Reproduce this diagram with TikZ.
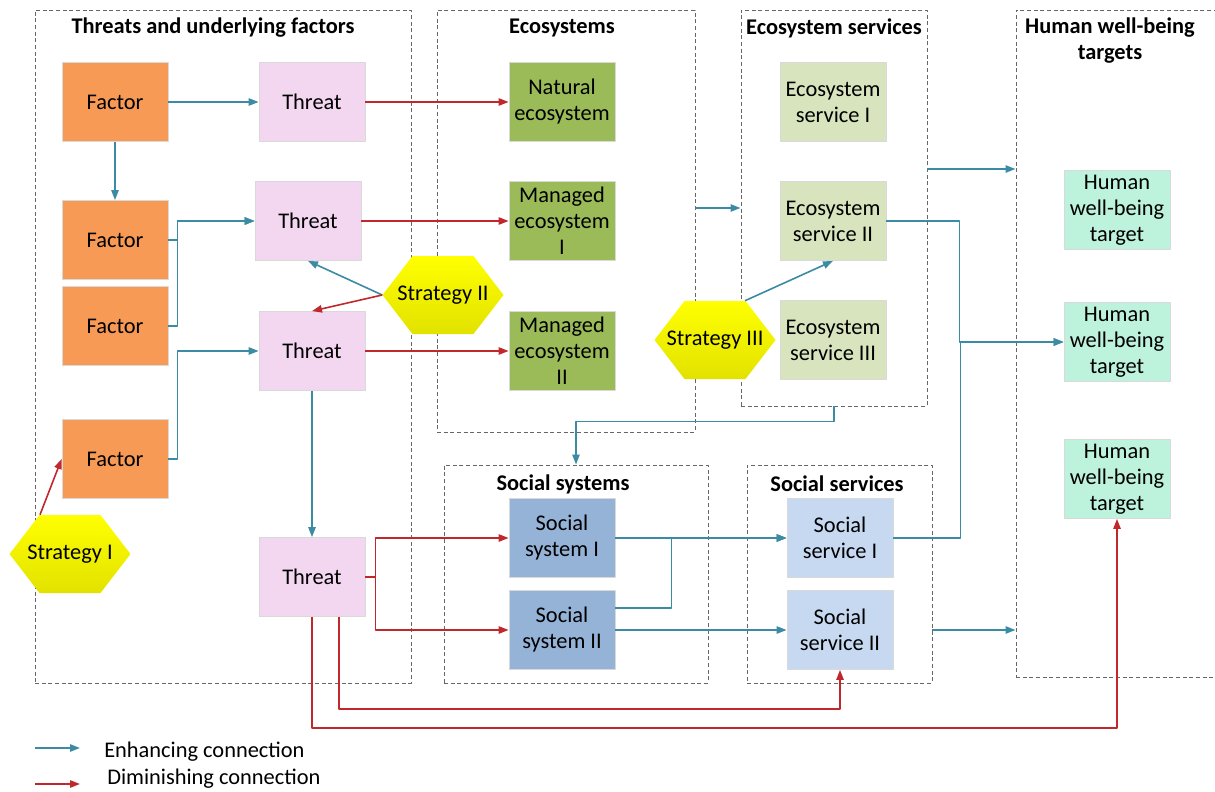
\documentclass[tikz,border=0pt]{standalone}
\usepackage{fontspec}
\setmainfont{Carlito}
\usepackage{tikz}
\usetikzlibrary{arrows.meta,fit,calc}
\definecolor{facto}{HTML}{F79A56}
\definecolor{threa}{HTML}{F3D7F1}
\definecolor{ecosy}{HTML}{9BBB59}
\definecolor{ecser}{HTML}{D7E4BD}
\definecolor{humwb}{HTML}{BDF2DC}
\definecolor{socsy}{HTML}{95B3D7}
\definecolor{socse}{HTML}{C6D9F1}
\definecolor{enhcl}{HTML}{3A8BA3}
\definecolor{dimcl}{HTML}{C0282C}
\definecolor{strtb}{HTML}{E2E200}

\begin{document}
\begin{tikzpicture}[x=0.75pt,y=-0.75pt,line join=round,
  font=\fontsize{16.8}{19.5}\selectfont,
  box/.style={draw=black!15,line width=0.6pt,minimum width=79.5pt,minimum height=59.25pt,inner sep=0pt,align=center},
  grp/.style={draw=black!60,dash pattern=on 3pt off 2pt,line width=0.7pt,inner sep=0pt},
  ttl/.style={font=\fontsize{16.8}{19.5}\selectfont\bfseries,align=center,inner sep=0pt},
  strat/.style={minimum width=90.75pt,minimum height=58.5pt,inner sep=0pt,
    path picture={\shade[top color=yellow,bottom color=strtb]
      (path picture bounding box.west)
      -- ($(path picture bounding box.north west)+(30,0)$)
      -- ($(path picture bounding box.north east)+(-30,0)$)
      -- (path picture bounding box.east)
      -- ($(path picture bounding box.south east)+(-30,0)$)
      -- ($(path picture bounding box.south west)+(30,0)$) -- cycle;}},
  enh/.style={-{Triangle[length=7.5pt,width=5.5pt]},color=enhcl,line width=1.2pt},
  dim/.style={-{Triangle[length=7.5pt,width=5.5pt]},color=dimcl,line width=1.2pt}]
\useasboundingbox (0,0) rectangle (1215,792);
% groups
\node[grp,fit={(35,10) (411,683)}] (gThr) {};
\node[grp,fit={(437,10) (695,432)}] (gEco) {};
\node[grp,fit={(741,10) (927,406)}] (gES) {};
\node[grp,fit={(1016,10) (1240,677)}] (gHW) {};
\node[grp,fit={(444,465) (708,683)}] (gSys) {};
\node[grp,fit={(747,465) (932,683)}] (gSS) {};
\node[ttl] (tThr) at (213,28) {Threats and underlying factors};
\node[ttl] (tEco) at (562,28) {Ecosystems};
\node[ttl] (tES) at (834,28) {Ecosystem services};
\node[ttl] (tHW) at (1110,41) {Human well-being\\targets};
\node[ttl] (tSys) at (563,484) {Social systems};
\node[ttl] (tSS) at (837,484) {Social services};
% factors and threats
\node[box,fill=facto] (f1) at (115,102) {Factor};
\node[box,fill=facto] (f2) at (115,240) {Factor};
\node[box,fill=facto] (f3) at (115,326) {Factor};
\node[box,fill=facto] (f4) at (115,459) {Factor};
\node[box,fill=threa] (t1) at (312,102) {Threat};
\node[box,fill=threa] (t2) at (308,221) {Threat};
\node[box,fill=threa] (t3) at (312,351) {Threat};
\node[box,fill=threa] (t4) at (312,577) {Threat};
% ecosystems and services
\node[box,fill=ecosy] (e1) at (562,102) {Natural\\ecosystem};
\node[box,fill=ecosy] (e2) at (562,221) {Managed\\ecosystem\\I};
\node[box,fill=ecosy] (e3) at (562,351) {Managed\\ecosystem\\II};
\node[box,fill=ecser] (es1) at (833,102) {Ecosystem\\service I};
\node[box,fill=ecser] (es2) at (833,221) {Ecosystem\\service II};
\node[box,fill=ecser] (es3) at (833,340) {Ecosystem\\service III};
\node[box,fill=humwb] (hw1) at (1117,210) {Human\\well-being\\target};
\node[box,fill=humwb] (hw2) at (1117,342) {Human\\well-being\\target};
\node[box,fill=humwb] (hw3) at (1117,479) {Human\\well-being\\target};
\node[box,fill=socsy] (sy1) at (562,538) {Social\\system I};
\node[box,fill=socsy] (sy2) at (562,630) {Social\\system II};
\node[box,fill=socse] (sv1) at (840,538) {Social\\service I};
\node[box,fill=socse] (sv2) at (840,630) {Social\\service II};
% strategies
\node[strat] (s1) at (70,554) {Strategy I};
\node[strat] (s2) at (443,295) {Strategy II};
\node[strat] (s3) at (715,340) {Strategy III};
% connections
\draw[enh] (f1.east) -- (t1.west);
\draw[enh] (f1.south) -- (f2.north);
\draw[enh] (f2.east) -- ++(9,0) |- (t2.west);
\draw[enh] (f3.east) -- ++(9,0) |- (t2.west);
\draw[enh] (f4.east) -- ++(9,0) |- (t3.west);
\draw[dim] ($(s1.north)+(-30,0)$) -- (f4.west);
\draw[enh] (s2.west) -- (t2.south);
\draw[dim] (s2.west) -- (t3.north);
\draw[dim] (t1.east) -- (e1.west);
\draw[dim] (t2.east) -- (e2.west);
\draw[dim] (t3.east) -- (e3.west);
\draw[enh] (t3.south) -- (t4.north);
\draw[dim] (t4.east) -- ++(10,0) |- (sy1.west);
\draw[dim] (t4.east) -- ++(10,0) |- (sy2.west);
\draw[dim] (t4.south) -- ++(0,111) -| (hw3.south);
\draw[dim] ($(t4.south)+(27,0)$) -- ++(0,92) -| (sv2.south);
\draw[enh] (gES.west -| gEco.east) -- (gES.west);
\draw[enh] ($(gES.east)+(0,-39)$) coordinate (p) -- (p -| gHW.west);
\draw[enh] (gES.south) -- ++(0,15) -| (gSys.north);
\draw[enh] ($(s3.north)+(30,0)$) -- (es2.south);
\draw[enh] (es2.east) -- ++(73,0) |- (hw2.west);
\draw[enh] (sv1.east) -- ++(67,0) |- (hw2.west);
\draw[enh] (sy1.east) -- (sv1.west);
\draw[enh] ($(sy2.east)+(0,-22)$) -- ++(56,0) |- (sv1.west);
\draw[enh] (sy2.east) -- (sv2.west);
\draw[enh] (sv2 -| gSS.east) -- (sv2 -| gHW.west);
% legend
\coordinate (la) at (35,748);
\coordinate (lb) at (80,748);
\coordinate (lc) at (35,784);
\coordinate (ld) at (80,784);
\draw[enh] (la) -- (lb);
\draw[dim] (lc) -- (ld);
\node[anchor=west,inner sep=0pt] (lenh) at (104,752) {Enhancing connection};
\node[anchor=west,inner sep=0pt] (ldim) at (107,779) {Diminishing connection};
\end{tikzpicture}
\end{document}
